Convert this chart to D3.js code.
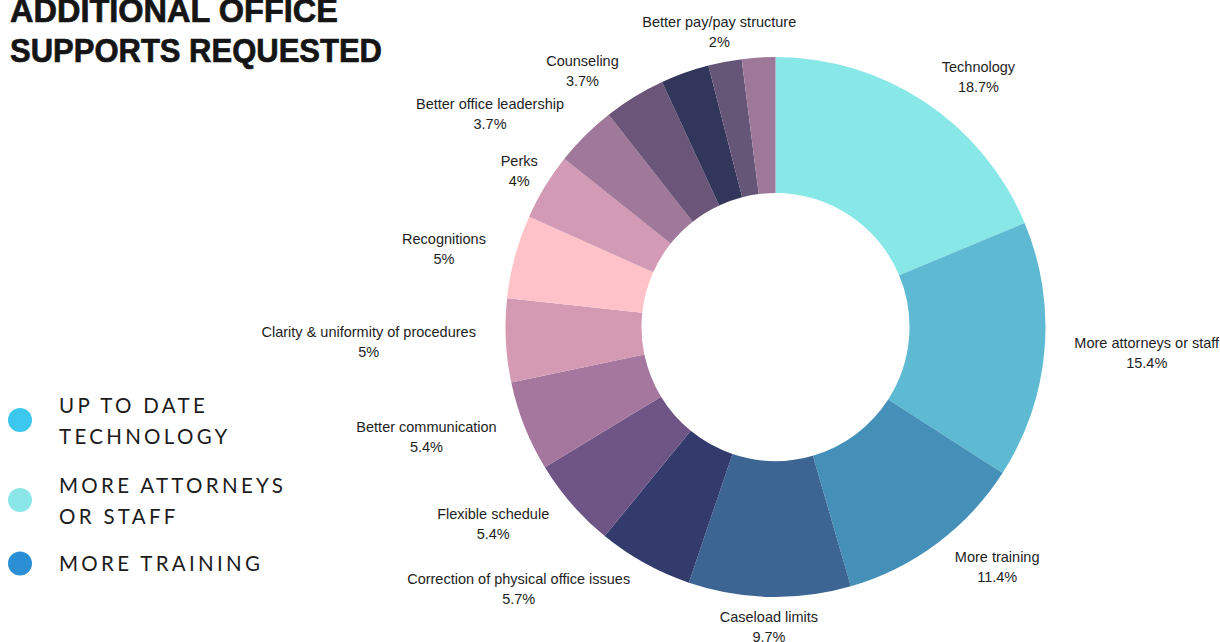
<!DOCTYPE html>
<html>
<head>
<meta charset="utf-8">
<script src="https://cdn.jsdelivr.net/npm/d3@7"></script>
<style>
  html, body { margin: 0; padding: 0; background: #ffffff; }
  svg { display: block; }
</style>
</head>
<body>
<svg id="chart" width="1220" height="642"></svg>
<script>
// Survey answers, clockwise from 12 o'clock (percent of responses)
const categories = [
  "Technology",
  "More attorneys or staff",
  "More training",
  "Caseload limits",
  "Correction of physical office issues",
  "Flexible schedule",
  "Better communication",
  "Clarity & uniformity of procedures",
  "Recognitions",
  "Perks",
  "Better office leadership",
  "Counseling",
  "",
  "Better pay/pay structure",
  ""
];
const values = [18.7, 15.4, 11.4, 9.7, 5.7, 5.4, 5.4, 5, 5, 4, 3.7, 3.7, 2.9, 2, 2];
const sliceColors = [
  "#88e8e8", "#5dbad2", "#4590b8", "#3d6594", "#333b6c",
  "#6e5585", "#a5769e", "#d49ab4", "#fec2c8", "#d29ab4",
  "#a07899", "#6b5679", "#31365a", "#655677", "#9e7898"
];

// Highlighted themes shown at the left
const legendLines = [["UP TO DATE", "TECHNOLOGY"], ["MORE ATTORNEYS", "OR STAFF"], ["MORE TRAINING"]];
const legendColors = ["#3cc8ee", "#8be6e8", "#2a8fd4"];

const titleLines = ["ADDITIONAL OFFICE", "SUPPORTS REQUESTED"];

const svg = d3.select("#chart");

// Title
svg.append("g").selectAll("text")
  .data(titleLines)
  .join("text")
  .attr("x", 10)
  .attr("y", (d, i) => 22 + i * 40)
  .attr("font-family", "'Liberation Sans', Arial, sans-serif")
  .attr("font-weight", 700)
  .attr("font-size", 33)
  .attr("fill", "#151515")
  .attr("stroke", "#151515")
  .attr("stroke-width", 0.7)
  .attr("textLength", (d, i) => i === 0 ? 328 : 372)
  .attr("lengthAdjust", "spacingAndGlyphs")
  .text(d => d);

// Legend: one row per theme, two-line entries get extra room
const legendPos = [420, 500, 563.5];
const legend = svg.append("g").selectAll("g")
  .data(legendLines)
  .join("g")
  .attr("transform", (d, i) => `translate(20,${legendPos[i]})`);
legend.append("circle")
  .attr("r", 12)
  .attr("fill", (d, i) => legendColors[i]);
legend.append("text")
  .attr("font-family", "Lato, 'Open Sans', sans-serif")
  .attr("font-size", 20.5)
  .attr("letter-spacing", 3.3)
  .attr("fill", "#1c1c1c")
  .selectAll("tspan")
  .data(d => d.map((t, j) => ({ t, j, n: d.length })))
  .join("tspan")
  .attr("x", 39)
  .attr("y", d => d.n === 1 ? 7.5 : (d.j === 0 ? -7 : 24))
  .text(d => d.t);

// Donut
const cx = 775.5, cy = 327;
const outerR = 270, innerR = 134, labelR = 300;

const pie = d3.pie().sort(null).value(d => d)
  .startAngle(0).endAngle(2 * Math.PI);
const arcs = pie(values);
const arc = d3.arc().innerRadius(innerR).outerRadius(outerR);

const g = svg.append("g").attr("transform", `translate(${cx},${cy})`);
g.selectAll("path")
  .data(arcs)
  .join("path")
  .attr("d", arc)
  .attr("fill", (d, i) => sliceColors[i]);

// Slice labels: name + percentage, anchored on the mid-angle ray
const fmt = d3.format(".1~f");
const labelG = g.append("g")
  .attr("font-family", "'Liberation Sans', Arial, sans-serif")
  .attr("font-size", 14.5)
  .attr("fill", "#1e1e1e");

arcs.forEach((a, i) => {
  if (!categories[i]) return;
  const mid = (a.startAngle + a.endAngle) / 2;
  const ax = labelR * Math.sin(mid);
  const ay = -labelR * Math.cos(mid);
  const t = labelG.append("text")
    .attr("dominant-baseline", "central");
  const lines = [categories[i], fmt(values[i]) + "%"];
  const spans = t.selectAll("tspan").data(lines).join("tspan")
    .attr("y", (d, j) => ay + (j === 0 ? -10 : 10))
    .text(d => d);
  let w = 0;
  spans.each(function () { w = Math.max(w, this.getComputedTextLength()); });
  const hw = w / 2, hh = 18;
  // centered box: keep it if it stays clear of the ring, otherwise align to the side
  const nx = Math.max(Math.abs(ax) - hw, 0);
  const ny = Math.max(Math.abs(ay) - hh, 0);
  let centerX = ax;
  if (Math.hypot(nx, ny) <= outerR) {
    centerX = ax + (ax >= 0 ? hw : -hw);
  }
  spans.attr("x", centerX).attr("text-anchor", "middle");
});
</script>
</body>
</html>
